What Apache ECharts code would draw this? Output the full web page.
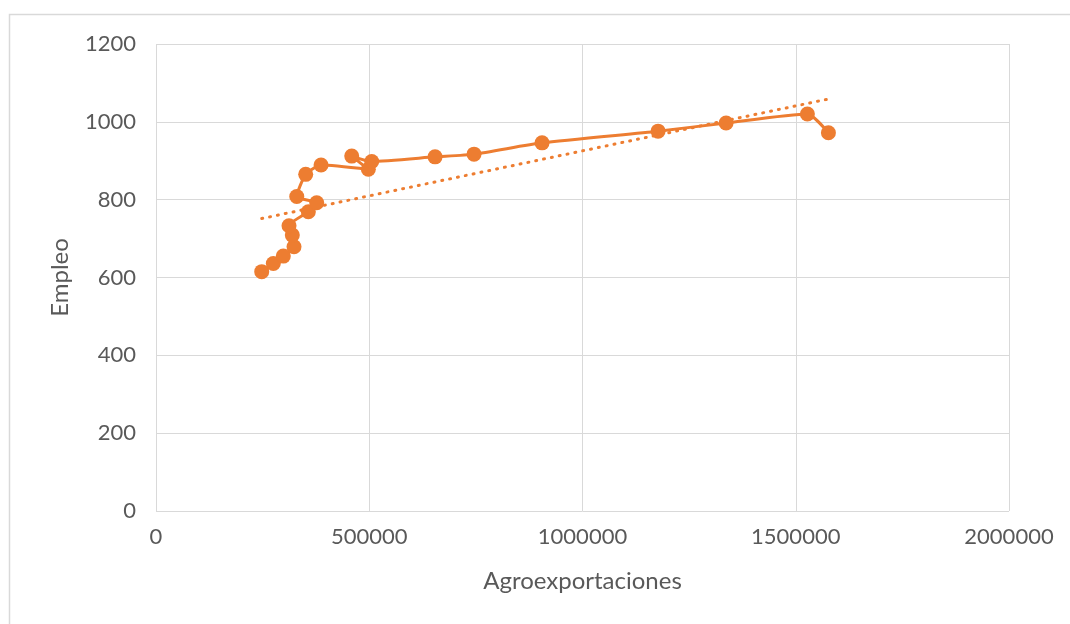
<!DOCTYPE html>
<html>
<head>
<meta charset="utf-8">
<script src="https://cdn.jsdelivr.net/npm/echarts@6/dist/echarts.min.js"></script>
<style>
  html, body { margin: 0; padding: 0; background: #fff; }
  #chart { width: 1070px; height: 624px; }
</style>
</head>
<body>
<div id="chart"></div>
<script>
// Agroexportaciones vs. Empleo, in series order
const agroexportaciones = [
  247900, 275100, 298500, 323600, 319600, 311900, 357200, 376800, 330000, 351000,
  387000, 497900, 458900, 505800, 654300, 745700, 905200, 1177200, 1336700, 1527300, 1576600
];
const empleo = [
  615, 636, 655, 679, 709, 733, 769, 792, 808, 865,
  889, 878, 912, 898, 910, 917, 946, 976, 997, 1020, 972
];
const xTicks = { min: 0, max: 2000000, interval: 500000 };
const yTicks = { min: 0, max: 1200, interval: 200 };

const points = agroexportaciones.map((x, i) => [x, empleo[i]]);

// Linear least-squares trend line over the same points
const n = points.length;
const mx = agroexportaciones.reduce((a, b) => a + b, 0) / n;
const my = empleo.reduce((a, b) => a + b, 0) / n;
let sxy = 0, sxx = 0;
for (let i = 0; i < n; i++) {
  sxy += (agroexportaciones[i] - mx) * (empleo[i] - my);
  sxx += (agroexportaciones[i] - mx) ** 2;
}
const slope = sxy / sxx;
const intercept = my - slope * mx;
const xLo = Math.min(...agroexportaciones), xHi = Math.max(...agroexportaciones);
const trend = [[xLo, intercept + slope * xLo], [xHi, intercept + slope * xHi]];

const orange = '#ED7D31';
const font = 'Lato, "Open Sans", sans-serif';
const plain = v => String(v);

const chart = echarts.init(document.getElementById('chart'), null, { renderer: 'canvas' });
chart.setOption({
  animation: false,
  backgroundColor: '#fff',
  graphic: [{
    type: 'rect',
    shape: { x: 9.5, y: 14.5, width: 1070, height: 640 },
    style: { fill: 'none', stroke: '#d9d9d9', lineWidth: 1.5 },
    silent: true
  }],
  grid: { left: 156, right: 61, top: 44, bottom: 113 },
  xAxis: {
    type: 'value',
    min: xTicks.min, max: xTicks.max, interval: xTicks.interval,
    name: 'Agroexportaciones',
    nameLocation: 'middle',
    nameGap: 58,
    nameTextStyle: { fontFamily: font, fontSize: 24, color: '#595959' },
    axisLine: { show: false },
    axisTick: { show: false },
    axisLabel: { fontFamily: font, fontSize: 22, color: '#595959', margin: 15, formatter: plain },
    splitLine: { show: true, lineStyle: { color: '#d9d9d9', width: 1 } }
  },
  yAxis: {
    type: 'value',
    min: yTicks.min, max: yTicks.max, interval: yTicks.interval,
    name: 'Empleo',
    nameLocation: 'middle',
    nameGap: 84,
    nameTextStyle: { fontFamily: font, fontSize: 24, color: '#595959' },
    axisLine: { show: false },
    axisTick: { show: false },
    axisLabel: { fontFamily: font, fontSize: 22, color: '#595959', margin: 20, formatter: plain },
    splitLine: { show: true, lineStyle: { color: '#d9d9d9', width: 1 } }
  },
  series: [
    {
      type: 'line',
      data: points,
      smooth: 0.2,
      symbol: 'circle',
      symbolSize: 15,
      itemStyle: { color: orange },
      lineStyle: { color: orange, width: 3 },
      z: 3
    },
    {
      type: 'line',
      data: trend,
      symbol: 'none',
      lineStyle: { color: orange, width: 3, type: [1, 7], cap: 'round' },
      z: 2
    }
  ]
});
</script>
</body>
</html>
